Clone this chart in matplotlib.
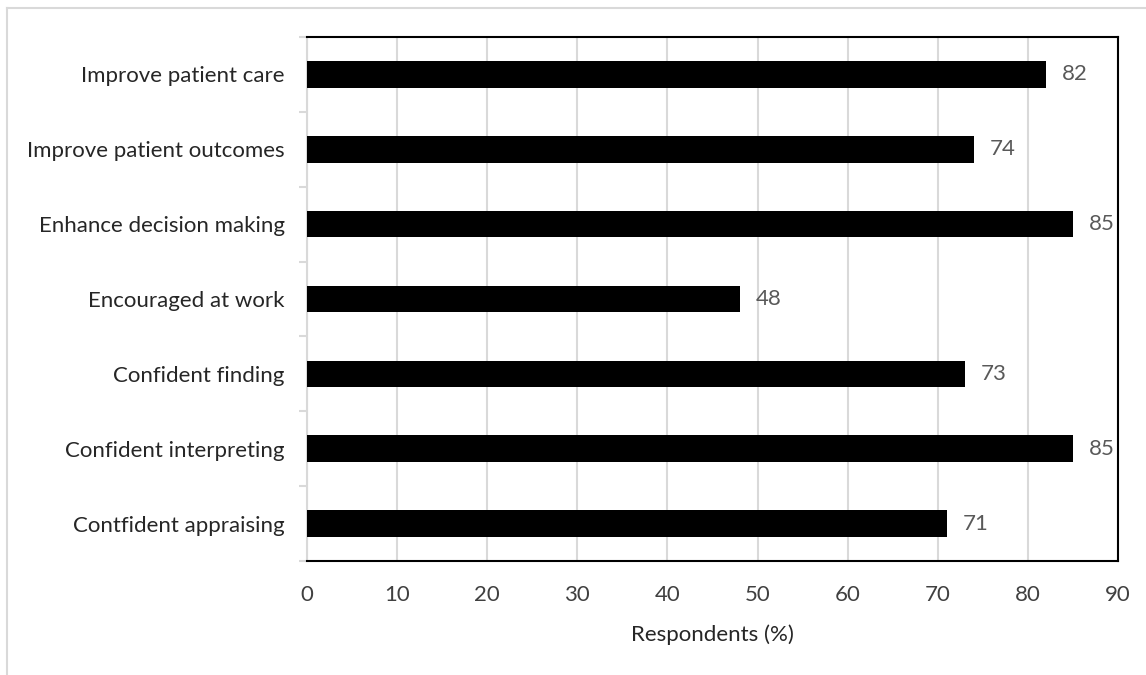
import matplotlib
matplotlib.use("Agg")
import matplotlib.pyplot as plt
from matplotlib.lines import Line2D
import numpy as np

categories = [
    "Improve patient care",
    "Improve patient outcomes",
    "Enhance decision making",
    "Encouraged at work",
    "Confident finding",
    "Confident interpreting",
    "Contfident appraising",
]
values = [82, 74, 85, 48, 73, 85, 71]
xticks = [0, 10, 20, 30, 40, 50, 60, 70, 80, 90]

plt.rcParams["font.family"] = ["Lato", "DejaVu Sans"]

fig = plt.figure(figsize=(11.46, 6.75), dpi=100)
ax = fig.add_axes([307 / 1146, 1 - 561 / 675, (1118 - 307) / 1146, (561 - 37) / 675])

y = np.arange(len(categories))
ax.barh(y, values, height=0.355, color="black", zorder=3)

for yi, v in zip(y, values):
    ax.text(v + 1.8, yi, str(v), va="center", ha="left", fontsize=16, color="#595959")

ax.set_xlim(0, 90)
ax.set_ylim(len(categories) - 0.5, -0.5)
ax.set_xticks(xticks)
ax.set_xticklabels([str(t) for t in xticks], fontsize=16, color="#404040")
ax.tick_params(axis="x", length=0, pad=17)

ax.set_yticks(y)
ax.set_yticklabels(categories, fontsize=16, color="#262626")
ax.set_yticks(np.arange(-0.5, len(categories)), minor=True)
ax.tick_params(axis="y", which="major", length=0, pad=16)
ax.tick_params(axis="y", which="minor", length=6, width=1.5, color="#d9d9d9")

ax.grid(axis="x", color="#d9d9d9", linewidth=1.5, zorder=0)
ax.set_axisbelow(True)

for side in ["top", "right", "bottom"]:
    ax.spines[side].set_color("black")
    ax.spines[side].set_linewidth(1.5)
ax.spines["left"].set_color("#d9d9d9")
ax.spines["left"].set_linewidth(1.5)

ax.set_xlabel("Respondents (%)", fontsize=16, color="#262626", labelpad=14)

# light frame of the chart area
fig.add_artist(Line2D([7 / 1146, 1], [1 - 8 / 675, 1 - 8 / 675], color="#d9d9d9", linewidth=1.5))
fig.add_artist(Line2D([7 / 1146, 7 / 1146], [0, 1 - 8 / 675], color="#d9d9d9", linewidth=1.5))

fig.savefig("out.png", dpi=100)
